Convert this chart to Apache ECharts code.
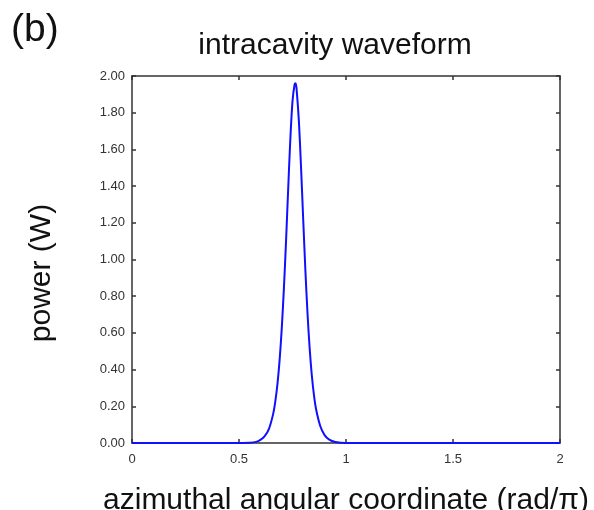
<!DOCTYPE html>
<html>
<head>
<meta charset="utf-8">
<script src="https://cdn.jsdelivr.net/npm/echarts@6/dist/echarts.min.js"></script>
<style>html,body{margin:0;padding:0;background:#fff}#c{width:594px;height:510px}</style>
</head>
<body>
<div id="c"></div>
<script>
var xValues = [0, 0.2, 0.4, 0.55, 0.58, 0.60, 0.62, 0.64, 0.66, 0.67, 0.68, 0.69, 0.70, 0.71, 0.72, 0.73, 0.74, 0.75, 0.76, 0.765, 0.77, 0.78, 0.79, 0.80, 0.81, 0.82, 0.83, 0.84, 0.85, 0.86, 0.88, 0.90, 0.92, 0.95, 1.0, 1.5, 2.0];
var powerValues = [0, 0, 0, 0.002, 0.006, 0.017, 0.037, 0.077, 0.160, 0.229, 0.325, 0.456, 0.629, 0.847, 1.105, 1.390, 1.659, 1.862, 1.955, 1.96, 1.916, 1.750, 1.500, 1.219, 0.947, 0.710, 0.519, 0.372, 0.264, 0.185, 0.091, 0.043, 0.020, 0.006, 0, 0, 0];
var yTicks = [0, 0.2, 0.4, 0.6, 0.8, 1.0, 1.2, 1.4, 1.6, 1.8, 2.0];
var xTicks = [0, 0.5, 1, 1.5, 2];

var data = xValues.map(function (x, i) { return [x, powerValues[i]]; });
var font = 'Liberation Sans, Arial, sans-serif';
var axisLine = { show: true, onZero: false, lineStyle: { color: '#333', width: 1.5 } };
var tick = { show: true, inside: true, length: 4, lineStyle: { color: '#333', width: 1.5 } };

var chart = echarts.init(document.getElementById('c'), null, { renderer: 'canvas' });
chart.setOption({
  animation: false,
  backgroundColor: '#fff',
  title: {
    text: 'intracavity waveform',
    left: 330, top: 26, textAlign: 'center',
    textStyle: { fontFamily: font, fontSize: 30, fontWeight: 'normal', color: '#111' }
  },
  graphic: [
    { type: 'text', left: 11, top: 11, style: { text: '(b)', font: '39px ' + font, fill: '#111' } },
    { type: 'text', x: 42, y: 273, rotation: Math.PI / 2,
      style: { text: 'power (W)', font: '30px ' + font, fill: '#111', align: 'center', verticalAlign: 'middle' } }
  ],
  grid: { left: 132, top: 76, width: 428, height: 367, containLabel: false, outerBoundsMode: 'none' },
  xAxis: [
    {
      type: 'value', min: 0, max: 2, interval: 0.5,
      axisLine: axisLine, axisTick: tick, splitLine: { show: false },
      axisLabel: { color: '#333', fontFamily: font, fontSize: 13, margin: 10,
        formatter: function (v) { return xTicks.indexOf(v) >= 0 ? String(v) : ''; } },
      name: 'azimuthal angular coordinate (rad/\u03c0)',
      nameLocation: 'middle', nameGap: 43,
      nameTextStyle: { fontFamily: font, fontSize: 30, color: '#111' }
    },
    {
      type: 'value', position: 'top', min: 0, max: 2, interval: 0.5,
      axisLine: axisLine, axisTick: tick, axisLabel: { show: false }, splitLine: { show: false }
    }
  ],
  yAxis: [
    {
      type: 'value', min: 0, max: 2, interval: 0.2,
      axisLine: axisLine, axisTick: tick, splitLine: { show: false },
      axisLabel: { color: '#333', fontFamily: font, fontSize: 13, margin: 7,
        formatter: function (v) { return v.toFixed(2); } }
    },
    {
      type: 'value', position: 'right', min: 0, max: 2, interval: 0.2,
      axisLine: axisLine, axisTick: tick, axisLabel: { show: false }, splitLine: { show: false }
    }
  ],
  series: [{
    type: 'line', data: data, smooth: 0.3, showSymbol: false,
    lineStyle: { color: '#1010ff', width: 2 }, z: 5
  }]
});
</script>
</body>
</html>
